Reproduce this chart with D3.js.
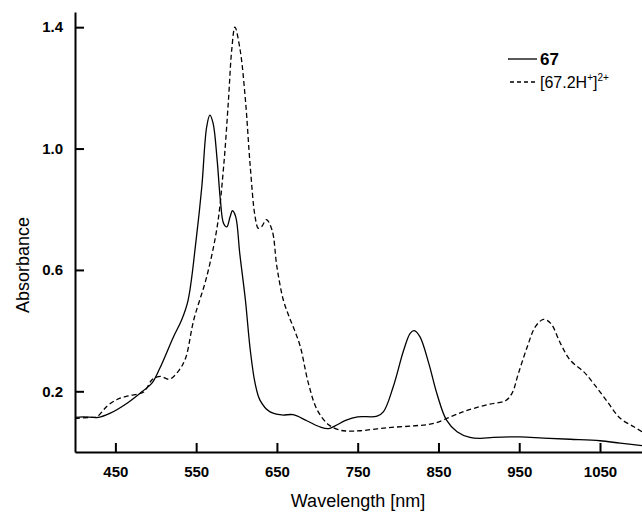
<!DOCTYPE html>
<html>
<head>
<meta charset="utf-8">
<script src="https://cdn.jsdelivr.net/npm/d3@7"></script>
<style>
  body { margin: 0; background: #fff; }
  svg { font-family: Arial, "Liberation Sans", sans-serif; }
  .axis path, .axis line { stroke: #000; stroke-width: 2; }
  .axis text { font-size: 15px; font-weight: bold; fill: #000; }
</style>
</head>
<body>
<svg id="chart" width="642" height="512"></svg>
<script>
// ---- data ----
var wl67 = [400, 410, 429, 443, 464, 483, 495, 505, 522, 532, 540, 550, 557, 563, 567, 571, 576,
  580, 584, 588, 592, 595, 599, 604, 611, 617, 623, 629, 641, 656, 670, 687, 704, 714, 722, 735,
  750, 774, 782, 794, 807, 815, 820, 827, 838, 848, 860, 873, 889, 902, 918, 951, 980, 1013,
  1050, 1075, 1102];
var abs67 = [0.114, 0.116, 0.114, 0.127, 0.160, 0.199, 0.226, 0.276, 0.380, 0.435, 0.500,
  0.700, 0.874, 1.071, 1.110, 1.083, 0.962, 0.830, 0.753, 0.742, 0.775, 0.795, 0.775, 0.654,
  0.500, 0.336, 0.226, 0.171, 0.133, 0.122, 0.123, 0.103, 0.082, 0.077, 0.086, 0.104, 0.116,
  0.118, 0.133, 0.215, 0.336, 0.391, 0.400, 0.380, 0.292, 0.193, 0.105, 0.067, 0.048, 0.045,
  0.048, 0.050, 0.046, 0.042, 0.037, 0.029, 0.021];

var wlH = [400, 418, 427, 440, 452, 466, 485, 496, 506, 517, 529, 537, 547, 563, 576, 584, 590,
  594, 598, 604.5, 611, 617, 623, 627, 631, 637, 644, 650, 658, 666, 672, 679, 689, 700, 714,
  728, 737, 753, 786, 819, 844, 865, 881, 894, 914, 933, 941, 949, 960, 970, 980, 989, 1001,
  1013, 1030, 1042, 1059, 1075, 1092, 1102];
var absH = [0.110, 0.114, 0.116, 0.152, 0.173, 0.185, 0.198, 0.240, 0.249, 0.240, 0.270, 0.310,
  0.435, 0.577, 0.742, 0.940, 1.160, 1.324, 1.400, 1.324, 1.160, 0.940, 0.775, 0.737, 0.742,
  0.766, 0.731, 0.610, 0.500, 0.440, 0.400, 0.347, 0.226, 0.138, 0.090, 0.072, 0.069, 0.070,
  0.080, 0.086, 0.094, 0.116, 0.133, 0.144, 0.158, 0.169, 0.193, 0.259, 0.347, 0.413, 0.437,
  0.424, 0.358, 0.303, 0.264, 0.226, 0.166, 0.111, 0.083, 0.067];

var xTicks = [450, 550, 650, 750, 850, 950, 1050];
var yTicks = [0.2, 0.6, 1.0, 1.4];

var svg = d3.select("#chart");

var x = d3.scaleLinear().domain([400, 1102]).range([75, 642]);
var y = d3.scaleLinear().domain([0, 1.45]).range([452, 12]);

var line = d3.line()
    .x(function(d) { return x(d[0]); })
    .y(function(d) { return y(d[1]); })
    .curve(d3.curveCatmullRom.alpha(0.5));

var s67 = d3.zip(wl67, abs67);
var sH = d3.zip(wlH, absH);

svg.append("path")
    .datum(s67)
    .attr("fill", "none")
    .attr("stroke", "#000")
    .attr("stroke-width", 1.3)
    .attr("d", line);

svg.append("path")
    .datum(sH)
    .attr("fill", "none")
    .attr("stroke", "#000")
    .attr("stroke-width", 1.3)
    .attr("stroke-dasharray", "5,3")
    .attr("d", line);

// axes (ticks point inward)
svg.append("g")
    .attr("class", "axis")
    .attr("transform", "translate(0,452)")
    .call(d3.axisBottom(x).tickValues(xTicks).tickFormat(d3.format("d"))
      .tickSizeInner(-9).tickSizeOuter(0).tickPadding(14));

svg.append("g")
    .attr("class", "axis")
    .attr("transform", "translate(75,0)")
    .call(d3.axisLeft(y).tickValues(yTicks).tickFormat(d3.format(".1f"))
      .tickSizeInner(-9).tickSizeOuter(0).tickPadding(12));

// axis titles
svg.append("text")
    .attr("x", 358)
    .attr("y", 507)
    .attr("text-anchor", "middle")
    .attr("font-size", 18)
    .text("Wavelength [nm]");

svg.append("text")
    .attr("transform", "translate(29,265) rotate(-90)")
    .attr("text-anchor", "middle")
    .attr("font-size", 18)
    .text("Absorbance");

// legend
var legend = svg.append("g").attr("font-size", 16);

legend.append("line")
    .attr("x1", 508).attr("x2", 537)
    .attr("y1", 59).attr("y2", 59)
    .attr("stroke", "#000").attr("stroke-width", 1.3);
legend.append("text")
    .attr("x", 540).attr("y", 65)
    .attr("font-weight", "bold")
    .attr("font-size", 17)
    .text("67");

legend.append("line")
    .attr("x1", 510).attr("x2", 537)
    .attr("y1", 82).attr("y2", 82)
    .attr("stroke", "#000").attr("stroke-width", 1.3)
    .attr("stroke-dasharray", "4,3");
var t2 = legend.append("text")
    .attr("x", 540).attr("y", 88);
t2.append("tspan").text("[67.2H");
t2.append("tspan").attr("font-size", 10).attr("dy", -7).text("+");
t2.append("tspan").attr("dy", 7).text("]");
t2.append("tspan").attr("font-size", 10).attr("dy", -7).text("2+");
</script>
</body>
</html>
